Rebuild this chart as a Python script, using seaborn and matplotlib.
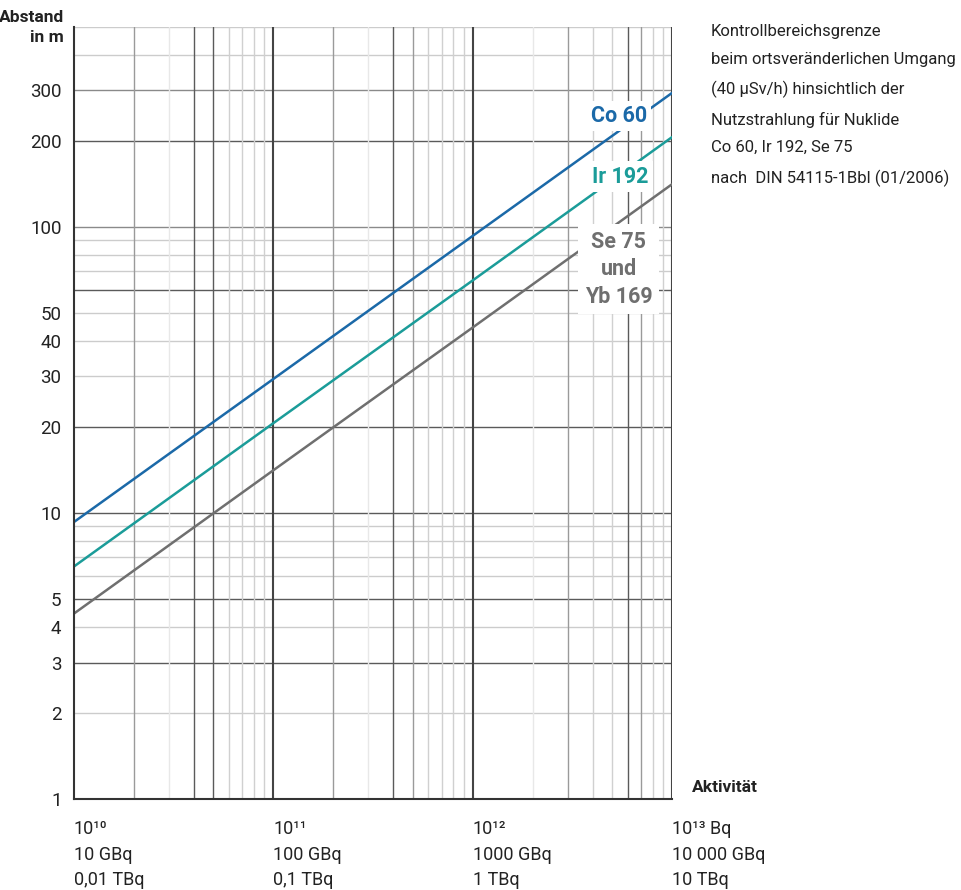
import numpy as np
import pandas as pd
import matplotlib
matplotlib.use('Agg')
import matplotlib.pyplot as plt
import seaborn as sns
from matplotlib.ticker import FixedLocator, FixedFormatter, NullLocator

# values (distance in m for activity in Bq)
activity = [1e10, 1e11, 1e12, 1e13]
co60 = [9.3, 29.4, 93, 294]
ir192 = [6.5, 20.6, 65, 206]
se75 = [4.45, 14.1, 44.5, 141]

nuclides = ['Co 60', 'Ir 192', 'Se 75']
colors = {'Co 60': '#1b69a8', 'Ir 192': '#1b9c99', 'Se 75': '#6f6f6f'}

ytick_vals = [1, 2, 3, 4, 5, 10, 20, 30, 40, 50, 100, 200, 300]
xtick_vals = [1e10, 1e11, 1e12, 1e13]
xtick_labels = ['10¹⁰\n10 GBq\n0,01 TBq',
                '10¹¹\n100 GBq\n0,1 TBq',
                '10¹²\n1000 GBq\n1 TBq',
                '10¹³ Bq\n10 000 GBq\n10 TBq']

df = pd.DataFrame({
    'Aktivität': activity * 3,
    'Abstand': co60 + ir192 + se75,
    'Nuklid': np.repeat(nuclides, len(activity)),
})

sns.set_style('white')
plt.rcParams['font.family'] = ['Roboto', 'DejaVu Sans']

fig = plt.figure(figsize=(9.62, 8.9), dpi=100)
ax = fig.add_axes([74/962, 91/890, 598/962, 772/890])
ax.set_xscale('log')
ax.set_yscale('log')
ax.set_xlim(1e10, 1e13)
ax.set_ylim(1, 500)

# grid, with the uneven line weights of the original
dark_y = [3, 5, 10, 20, 60, 200]
mid_y = [100, 300]
for dec in [1, 10, 100]:
    for m in range(1, 10):
        v = dec * m
        if v <= 1 or v > 500:
            continue
        if v in dark_y:
            c, lw = '#5a5a5a', 1.0
        elif v in mid_y:
            c, lw = '#8a8a8a', 1.0
        else:
            c, lw = '#cccccc', 1.0
        ax.axhline(v, color=c, lw=lw, zorder=1)

dark_x = [4e10, 5e10, 4e11, 6e12]
mid_x = [2e10, 2e11, 5e11, 3e12, 7e12]
pale_x = [3e10, 3e11, 2e12]
for dec in [1e10, 1e11, 1e12]:
    for m in range(1, 10):
        v = dec * m
        if m == 1:
            if v > 1e10:
                ax.axvline(v, color='#444444', lw=1.5, zorder=1)
            continue
        if any(np.isclose(v, d) for d in dark_x):
            c = '#5a5a5a'
        elif any(np.isclose(v, d) for d in mid_x):
            c = '#9a9a9a'
        elif any(np.isclose(v, d) for d in pale_x):
            c = '#e8e8e8'
        else:
            c = '#d0d0d0'
        ax.axvline(v, color=c, lw=1.0, zorder=1)
ax.axvline(1e13, color='#444444', lw=1.5, zorder=1)

sns.lineplot(data=df, x='Aktivität', y='Abstand', hue='Nuklid',
             palette=colors, linewidth=1.8, legend=False, ax=ax, zorder=3)

for s in ['top', 'right']:
    ax.spines[s].set_visible(False)
for s in ['left', 'bottom']:
    ax.spines[s].set_color('#333333')
    ax.spines[s].set_linewidth(1.5)
    ax.spines[s].set_zorder(4)

ax.yaxis.set_major_locator(FixedLocator(ytick_vals))
ax.yaxis.set_major_formatter(FixedFormatter([str(v) for v in ytick_vals]))
ax.yaxis.set_minor_locator(NullLocator())
ax.xaxis.set_major_locator(FixedLocator(xtick_vals))
ax.xaxis.set_major_formatter(FixedFormatter(xtick_labels))
ax.xaxis.set_minor_locator(NullLocator())
ax.tick_params(axis='y', length=0, pad=9, labelsize=13.5, labelcolor='#222222')
ax.tick_params(axis='x', length=9, width=1.3, color='#333333', pad=6,
               labelsize=13, labelcolor='#222222')
for lab in ax.get_xticklabels():
    lab.set_horizontalalignment('left')
    lab.set_linespacing(1.55)
ax.set_xlabel('')
ax.set_ylabel('')

# curve labels on white patches
box = dict(facecolor='white', edgecolor='none', pad=3)
ax.text(5.4e12, 244, 'Co 60', color=colors['Co 60'], fontsize=15.5,
        fontweight='bold', ha='center', va='center', bbox=box, zorder=5)
ax.text(5.5e12, 150, 'Ir 192', color=colors['Ir 192'], fontsize=15.5,
        fontweight='bold', ha='center', va='center', bbox=box, zorder=5)
ax.text(5.4e12, 71, 'Se 75\nund\nYb 169', color=colors['Se 75'], fontsize=15.5,
        fontweight='bold', ha='center', va='center', linespacing=1.3,
        bbox=dict(facecolor='white', edgecolor='none', pad=5), zorder=5)

fig.text(64/962, 1 - 10/890, 'Abstand\nin m', ha='right', va='top',
         fontsize=12.5, fontweight='bold', color='#222222', linespacing=1.45)
fig.text(692/962, 1 - 788/890, 'Aktivität', ha='left', va='center',
         fontsize=12.5, fontweight='bold', color='#222222')
fig.text(711/962, 1 - 24/890,
         'Kontrollbereichsgrenze\n'
         'beim ortsveränderlichen Umgang\n'
         '(40 µSv/h) hinsichtlich der\n'
         'Nutzstrahlung für Nuklide\n'
         'Co 60, Ir 192, Se 75\n'
         'nach  DIN 54115-1Bbl (01/2006)',
         ha='left', va='top', fontsize=12, color='#222222', linespacing=2.05)

fig.savefig('out.png', dpi=100)
